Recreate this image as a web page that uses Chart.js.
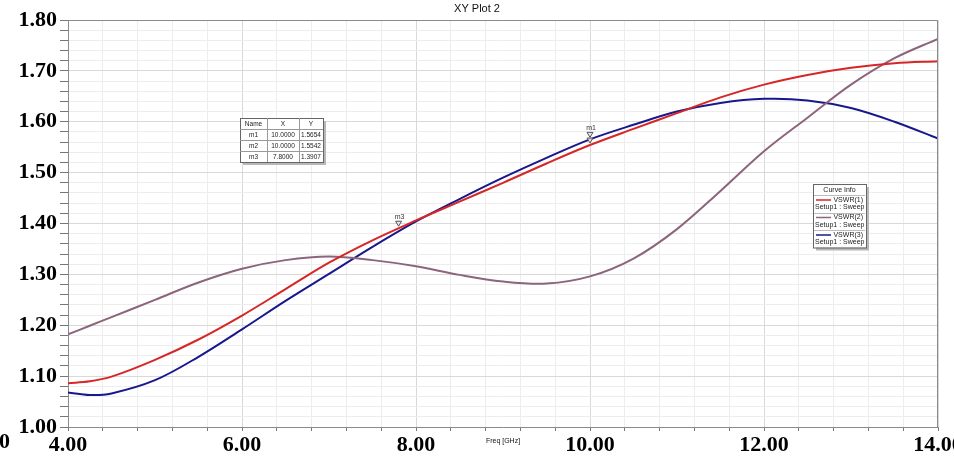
<!DOCTYPE html>
<html>
<head>
<meta charset="utf-8">
<script src="https://cdn.jsdelivr.net/npm/chart.js@4.4.1/dist/chart.umd.min.js"></script>
<style>
  html, body { margin:0; padding:0; background:#fff; }
</style>
</head>
<body>
<canvas id="c" width="954" height="456"></canvas>
<script>
// frequency sweep (GHz) and the three VSWR curves
const freq  = [4.0, 4.25, 4.5, 5.0, 5.5, 6.0, 6.5, 7.0, 7.5, 8.0, 8.5, 9.0, 9.5, 10.0, 10.5, 11.0, 11.5, 12.0, 12.5, 13.0, 13.5, 14.0];
const vswr1 = [1.086, 1.090, 1.099, 1.132, 1.172, 1.219, 1.271, 1.323, 1.367, 1.406, 1.443, 1.480, 1.518, 1.5542, 1.586, 1.617, 1.648, 1.673, 1.692, 1.706, 1.715, 1.719];
const vswr2 = [1.182, 1.199, 1.216, 1.250, 1.284, 1.311, 1.328, 1.335, 1.328, 1.316, 1.299, 1.286, 1.282, 1.296, 1.331, 1.389, 1.464, 1.542, 1.608, 1.673, 1.725, 1.763];
const vswr3 = [1.068, 1.063, 1.066, 1.092, 1.138, 1.192, 1.248, 1.301, 1.354, 1.404, 1.448, 1.490, 1.529, 1.5654, 1.594, 1.620, 1.637, 1.645, 1.642, 1.627, 1.600, 1.567];

const seriesNames = ['VSWR(1)', 'VSWR(2)', 'VSWR(3)'];
const sweepName = 'Setup1 : Sweep';
const seriesColors = ['rgb(214,38,38)', 'rgb(140,100,124)', 'rgb(24,24,140)'];

// markers
const markerNames = ['m1', 'm2', 'm3'];
const markerX = [10.0, 10.0, 7.8];
const markerY = [1.5654, 1.5542, 1.3907];

const tickFont = {family: 'Liberation Serif', weight: 'bold', size: 22};

function pts(vals) {
  return freq.map((f, i) => ({x: f, y: vals[i]}));
}

function isMult(v, step) {
  return Math.abs(v / step - Math.round(v / step)) < 1e-6;
}

const extras = {
  id: 'extras',
  afterDraw(chart) {
    const ctx = chart.ctx;
    const a = chart.chartArea;
    const xs = chart.scales.x, ys = chart.scales.y;
    ctx.save();

    // top / right frame
    ctx.strokeStyle = '#8a8a8a';
    ctx.lineWidth = 1;
    ctx.beginPath();
    ctx.moveTo(a.left, a.top + 0.5);
    ctx.lineTo(a.right - 0.5, a.top + 0.5);
    ctx.lineTo(a.right - 0.5, a.bottom);
    ctx.stroke();

    // title
    ctx.fillStyle = '#111';
    ctx.font = '11px "Liberation Sans", Arial';
    ctx.textAlign = 'center';
    ctx.textBaseline = 'middle';
    ctx.fillText('XY Plot 2', 477, 9);

    // axis title
    ctx.font = '7px "Liberation Sans", Arial';
    ctx.fillText('Freq [GHz]', (a.left + a.right) / 2, 441);

    // clipped leftover label at the left edge
    ctx.font = 'bold 22px "Liberation Serif"';
    ctx.textAlign = 'right';
    ctx.fillStyle = '#000';
    ctx.fillText('0', 10, 442);

    // markers
    const drawnLabels = [];
    for (let i = 0; i < markerNames.length; i++) {
      const px = xs.getPixelForValue(markerX[i]);
      const py = ys.getPixelForValue(markerY[i]);
      ctx.beginPath();
      ctx.moveTo(px - 3, py - 7);
      ctx.lineTo(px + 3, py - 7);
      ctx.lineTo(px, py - 2);
      ctx.closePath();
      ctx.fillStyle = 'rgba(230,230,230,0.9)';
      ctx.fill();
      ctx.strokeStyle = '#555';
      ctx.stroke();
      const ly = py - 11;
      if (!drawnLabels.some(d => Math.abs(d[0] - px) < 10 && Math.abs(d[1] - ly) < 10)) {
        ctx.font = '7px "Liberation Sans", Arial';
        ctx.textAlign = 'center';
        ctx.fillStyle = '#333';
        ctx.fillText(markerNames[i], px + 1, ly);
        drawnLabels.push([px, ly]);
      }
    }

    // marker table
    const tx = 240, ty = 118, cw = [27, 32, 24], rh = 11;
    const tw = cw[0] + cw[1] + cw[2], th = rh * (markerNames.length + 1);
    ctx.fillStyle = '#b8b8b8';
    ctx.fillRect(tx + 3, ty + 3, tw, th);
    ctx.fillStyle = '#fff';
    ctx.fillRect(tx, ty, tw, th);
    ctx.strokeStyle = '#666';
    ctx.strokeRect(tx + 0.5, ty + 0.5, tw, th);
    ctx.strokeStyle = '#999';
    ctx.beginPath();
    for (let r = 1; r <= markerNames.length; r++) {
      ctx.moveTo(tx, ty + r * rh + 0.5);
      ctx.lineTo(tx + tw, ty + r * rh + 0.5);
    }
    ctx.moveTo(tx + cw[0] + 0.5, ty);
    ctx.lineTo(tx + cw[0] + 0.5, ty + th);
    ctx.moveTo(tx + cw[0] + cw[1] + 0.5, ty);
    ctx.lineTo(tx + cw[0] + cw[1] + 0.5, ty + th);
    ctx.stroke();
    ctx.font = '6.5px "Liberation Sans", Arial';
    ctx.fillStyle = '#222';
    ctx.textAlign = 'center';
    const cx = [tx + cw[0] / 2, tx + cw[0] + cw[1] / 2, tx + cw[0] + cw[1] + cw[2] / 2];
    ctx.fillText('Name', cx[0], ty + rh / 2 + 0.5);
    ctx.fillText('X', cx[1], ty + rh / 2 + 0.5);
    ctx.fillText('Y', cx[2], ty + rh / 2 + 0.5);
    for (let i = 0; i < markerNames.length; i++) {
      const yy = ty + (i + 1) * rh + rh / 2 + 0.5;
      ctx.fillText(markerNames[i], cx[0], yy);
      ctx.fillText(markerX[i].toFixed(4), cx[1], yy);
      ctx.fillText(markerY[i].toFixed(4), cx[2], yy);
    }

    // curve info legend
    const lx = 813, ly0 = 184, lw = 53, hh = 11, eh = 17.5;
    const lh = hh + eh * seriesNames.length;
    ctx.fillStyle = '#b8b8b8';
    ctx.fillRect(lx + 3, ly0 + 3, lw, lh);
    ctx.fillStyle = '#fff';
    ctx.fillRect(lx, ly0, lw, lh);
    ctx.strokeStyle = '#666';
    ctx.strokeRect(lx + 0.5, ly0 + 0.5, lw, lh);
    ctx.font = '7px "Liberation Sans", Arial';
    ctx.fillStyle = '#222';
    ctx.textAlign = 'center';
    ctx.fillText('Curve Info', lx + lw / 2, ly0 + hh / 2 + 0.5);
    for (let i = 0; i < seriesNames.length; i++) {
      const et = ly0 + hh + i * eh;
      ctx.strokeStyle = '#bbb';
      ctx.beginPath();
      ctx.moveTo(lx + 1, Math.round(et) + 0.5);
      ctx.lineTo(lx + lw - 1, Math.round(et) + 0.5);
      ctx.stroke();
      ctx.strokeStyle = seriesColors[i];
      ctx.lineWidth = 1.5;
      ctx.beginPath();
      ctx.moveTo(lx + 3, et + 5);
      ctx.lineTo(lx + 18, et + 5);
      ctx.stroke();
      ctx.lineWidth = 1;
      ctx.fillStyle = '#222';
      ctx.textAlign = 'right';
      ctx.fillText(seriesNames[i], lx + lw - 3, et + 5);
      ctx.textAlign = 'left';
      ctx.fillText(sweepName, lx + 2, et + 12.5);
    }

    ctx.restore();
  }
};

new Chart(document.getElementById('c'), {
  type: 'line',
  data: {
    datasets: [
      {label: seriesNames[0], data: pts(vswr1), borderColor: seriesColors[0]},
      {label: seriesNames[1], data: pts(vswr2), borderColor: seriesColors[1]},
      {label: seriesNames[2], data: pts(vswr3), borderColor: seriesColors[2]}
    ]
  },
  options: {
    responsive: false,
    animation: false,
    layout: {padding: {top: 20, right: 16, left: 0, bottom: 0}},
    plugins: {legend: {display: false}, tooltip: {enabled: false}, title: {display: false}},
    elements: {
      point: {radius: 0},
      line: {borderWidth: 2, tension: 0.35, fill: false}
    },
    scales: {
      x: {
        type: 'linear', min: 4, max: 14,
        ticks: {
          stepSize: 0.4, autoSkip: false, maxRotation: 0, padding: 1,
          font: tickFont, color: '#000',
          callback: v => isMult(v, 2) ? v.toFixed(2) : ''
        },
        grid: {
          color: c => isMult(c.tick.value, 2) ? '#d9d9d9' : '#ededed',
          tickLength: 4, tickColor: '#777'
        },
        border: {color: '#8a8a8a'},
        afterFit(s) { s.height = 29; s.paddingLeft = 0; s.paddingRight = 0; }
      },
      y: {
        min: 1.0, max: 1.8,
        ticks: {
          stepSize: 0.02, autoSkip: false, padding: 3,
          font: tickFont, color: '#000',
          callback: v => isMult(v, 0.1) ? v.toFixed(2) : ''
        },
        grid: {
          color: c => isMult(c.tick.value, 0.1) ? '#d9d9d9' : '#ededed',
          tickLength: 8, tickColor: '#777'
        },
        border: {color: '#8a8a8a'},
        afterFit(s) { s.width = 68; s.paddingTop = 0; s.paddingBottom = 0; }
      }
    }
  },
  plugins: [extras]
});
</script>
</body>
</html>
